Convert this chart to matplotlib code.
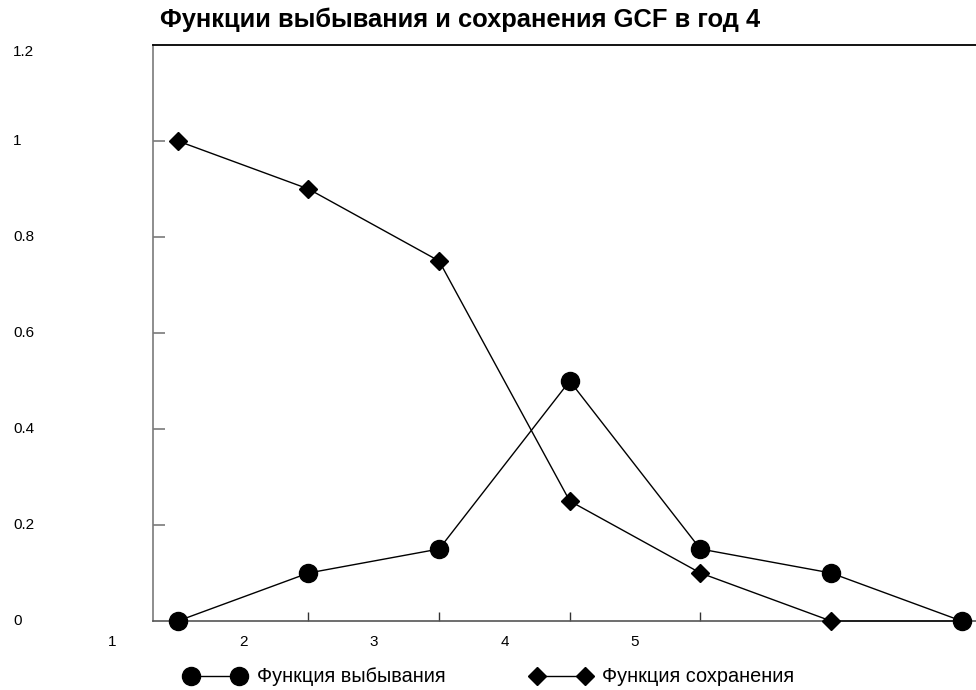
import matplotlib
matplotlib.use("Agg")
from matplotlib import pyplot as plt
from matplotlib.lines import Line2D
from matplotlib.transforms import blended_transform_factory

plt.rcParams["font.family"] = ["Liberation Sans", "DejaVu Sans"]

# data
points = [0, 1, 2, 3, 4, 5, 6]
dropout = [0, 0.1, 0.15, 0.5, 0.15, 0.1, 0]
survival = [1, 0.9, 0.75, 0.25, 0.1, 0, 0]
y_ticks = [0, 0.2, 0.4, 0.6, 0.8, 1, 1.2]
y_labels = ["0", "0.2", "0.4", "0.6", "0.8", "1", "1.2"]
x_label_pos = [-0.5, 0.5, 1.5, 2.5, 3.5]
x_labels = ["1", "2", "3", "4", "5"]
x_tick_pos = [1, 2, 3, 4]

title = "Функции выбывания и сохранения GCF в год 4"
name_dropout = "Функция выбывания"
name_survival = "Функция сохранения"

fig = plt.figure(figsize=(9.76, 6.90), dpi=100)
ax = fig.add_axes([0.1568, 0.1, 0.8432, 0.8348])

ax.plot(points, survival, color="black", lw=1.0, marker="D", ms=9.5,
        mfc="black", mec="black", clip_on=False, zorder=3)
ax.plot(points, dropout, color="black", lw=1.0, marker="o", ms=13,
        mfc="black", mec="black", clip_on=False, zorder=4)

ax.set_xlim(-0.19, 6.11)
ax.set_ylim(0, 1.2)

# spines
ax.spines["right"].set_visible(False)
ax.spines["top"].set_color("black")
ax.spines["top"].set_linewidth(1.3)
ax.spines["left"].set_color("#7a7a7a")
ax.spines["left"].set_linewidth(1.2)
ax.spines["bottom"].set_color("#555555")
ax.spines["bottom"].set_linewidth(1.2)

# ticks (inward, no built-in labels)
ax.set_yticks([t for t in y_ticks if 0 < t < 1.2])
ax.set_xticks(x_tick_pos)
ax.tick_params(axis="y", direction="in", length=8.5, width=1.2,
               color="#7a7a7a", labelleft=False)
ax.tick_params(axis="x", direction="in", length=6.5, width=1.0,
               color="#333333", labelbottom=False)

# y labels far to the left, left aligned
ytr = blended_transform_factory(fig.transFigure, ax.transData)
for v, s in zip(y_ticks, y_labels):
    ax.text(0.0133, v, s, transform=ytr, ha="left",
            va="top" if v == y_ticks[-1] else "center",
            fontsize=11, clip_on=False)

# x labels sit between the ticks
xtr = blended_transform_factory(ax.transData, fig.transFigure)
for v, s in zip(x_label_pos, x_labels):
    ax.text(v, 1 - 642 / 690, s, transform=xtr, ha="center", va="center",
            fontsize=11, clip_on=False)

fig.text(0.164, 1 - 20 / 690, title, fontsize=18.4, fontweight="bold",
         ha="left", va="center")

handles = [
    Line2D([], [], color="black", lw=1.0, marker="o", ms=13, mfc="black"),
    Line2D([], [], color="black", lw=1.0, marker="D", ms=9.5, mfc="black"),
]
fig.legend(handles, [name_dropout, name_survival], loc="center",
           bbox_to_anchor=(0.502, 1 - 677 / 690), ncol=2, frameon=False,
           numpoints=2, handlelength=3.0, handletextpad=0.6,
           columnspacing=4.3, fontsize=14.3)

fig.savefig("out.png", dpi=100)
